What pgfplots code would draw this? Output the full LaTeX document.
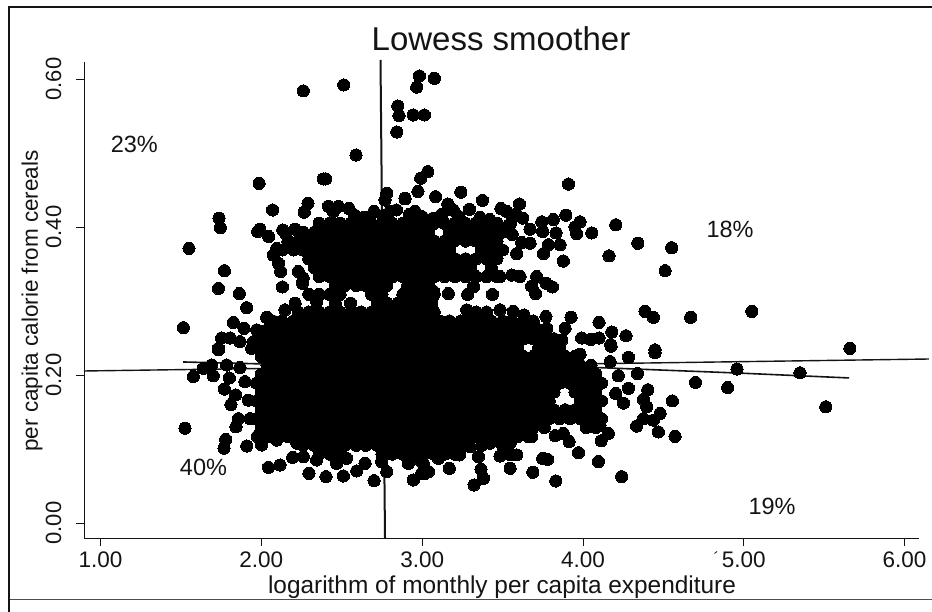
\documentclass[border=0pt]{standalone}
\usepackage{fontspec}
\setmainfont{Liberation Sans}
\usepackage{pgfplots}
\pgfplotsset{compat=1.18}
\definecolor{ink}{HTML}{141414}
\begin{document}
\begin{tikzpicture}[x=1pt,y=1pt]
\useasboundingbox (0,0) rectangle (932,612);
\fill[white] (0,0) rectangle (932,612);
\draw[ink,line width=2pt] (9,0) -- (9,605) -- (932,605);
\draw[ink!75,line width=0.9pt] (10,13) -- (932,13);
\draw[ink,line width=0.8pt] (714.5,58.5) -- (717,60.5);
\begin{axis}[
  at={(84pt,74pt)},anchor=south west,scale only axis,width=835pt,height=476pt,
  xmin=0.897,xmax=6.09,ymin=-0.0203,ymax=0.623,clip=false,
  axis x line=bottom,axis y line=left,axis line style={-,ink,line width=0.9pt},
  tick align=outside,major tick length=8pt,tick style={ink,line width=0.8pt},
  xtick={1,2,3,4,5,6},ytick={0,0.2,0.4,0.6},
  /pgf/number format/assume math mode=true,
  /pgf/number format/fixed,/pgf/number format/fixed zerofill,/pgf/number format/precision=2,
  xticklabel style={font=\fontsize{22.5}{24}\selectfont,text=ink,yshift=-5pt,inner sep=1pt},
  yticklabel style={font=\fontsize{22}{24}\selectfont,text=ink,rotate=90,anchor=south,yshift=11pt},
  title={Lowess smoother},
  title style={at={(axis description cs:0.4994,1.0105)},anchor=base,font=\fontsize{33}{36}\selectfont,text=ink},
  xlabel={logarithm of monthly per capita expenditure},
  xlabel style={at={(axis description cs:0.5006,-0.1165)},anchor=base,font=\fontsize{24.4}{27}\selectfont,text=ink,inner sep=0pt},
  ylabel={per capita calorie from cereals},
  ylabel style={at={(axis description cs:-0.0551,0.498)},anchor=base,font=\fontsize{22.5}{24}\selectfont,text=ink,inner sep=0pt},
]
% scattered points at the edges of the cloud
\addplot[only marks,mark=*,mark size=6.1pt,mark options={fill=black,draw=black,line width=0pt}] coordinates {
(2.261,.584)(2.512,.592)(2.983,.604)(3.076,.601)(2.966,.589)(2.848,.5635)(2.856,.5505)(2.945,.5514)(3.014,.5514)(2.842,.5284)
(2.589,.4973)(3.035,.4748)(2.991,.466)(1.986,.459)(2.385,.465)(2.40,.465)(2.78,.4455)(2.769,.4365)(2.894,.438)(2.974,.448)(3.084,.441)(3.24,.447)
(3.163,.430)(3.194,.423)(2.07,.423)(1.737,.412)(1.745,.399)(1.55,.371)(1.977,.394)(1.99,.397)(2.046,.387)(2.133,.396)(2.153,.391)(2.21,.397)(2.26,.389)
(2.29,.432)(2.267,.420)(1.77,.341)(1.733,.317)(1.863,.310)(1.909,.291)(1.826,.271)(1.515,.264)(2.131,.319)(2.075,.362)(2.095,.371)(2.106,.351)(2.12,.340)
(2.23,.340)(2.26,.331)(2.255,.324)(2.344,.299)(2.21,.297)(2.147,.288)(2.033,.278)(1.892,.263)(1.753,.25)(1.805,.25)(1.867,.245)(1.733,.236)(1.971,.261)(1.95,.245)
(2.417,.428)(2.479,.428)(2.545,.425)(2.448,.421)(2.70,.421)(2.84,.423)(2.956,.421)(2.893,.439)
(2.58,.416)(2.64,.413)(2.76,.416)(2.80,.421)(2.92,.417)(3.0,.414)(3.07,.412)(3.12,.417)(3.23,.414)(3.36,.413)(3.42,.41)(3.55,.405)(3.56,.39)
(3.91,.458)(3.375,.436)(3.605,.431)(3.49,.425)(3.159,.431)(3.294,.424)(3.184,.423)(3.526,.421)(3.584,.418)(3.625,.412)(3.893,.416)(3.816,.41)(3.744,.407)(3.982,.407)(3.951,.4)(3.961,.391)(4.055,.392)(4.204,.403)
(4.341,.378)(4.552,.372)(4.511,.341)(4.162,.361)(3.878,.354)(3.833,.392)(3.75,.394)(3.671,.397)(3.526,.4)(3.858,.376)(3.785,.376)(3.754,.364)(3.671,.378)(3.619,.379)(3.588,.364)(3.712,.333)(3.681,.32)(3.706,.31)(3.77,.324)(3.81,.319)
(3.609,.333)(3.557,.335)(3.484,.333)(3.437,.309)(3.163,.31)(3.283,.309)(3.319,.319)(3.07,.313)
(3.926,.278)(4.10,.271)(4.179,.258)(4.268,.253)(4.386,.286)(4.438,.278)(3.992,.25)(4.048,.248)(4.10,.25)(4.173,.241)(3.889,.263)(3.77,.279)(3.634,.281)(3.567,.286)(3.484,.288)(3.277,.288)(4.448,.234)(3.868,.247)(3.702,.265)(3.775,.263)
(5.05,.286)(4.67,.278)
(4.448,.230)(4.283,.224)(4.175,.239)(3.982,.228)(3.93,.222)(3.868,.22)(4.169,.218)(4.958,.208)(4.339,.202)(4.22,.199)(4.283,.182)(4.204,.175)(4.252,.162)(4.403,.18)(4.376,.167)(4.397,.157)(4.48,.148)(4.556,.165)(4.573,.117)(4.469,.123)(4.438,.139)(4.376,.141)(4.334,.131)(4.158,.121)(4.113,.111)(4.106,.132)(4.096,.083)(4.241,.0626)(3.972,.095)(3.914,.11)(3.878,.121)(3.827,.118)(3.75,.087)(3.78,.086)(3.688,.0685)(3.831,.0568)(3.588,.092)(3.484,.0905)(3.547,.0739)(3.55,.092)(3.366,.0725)(3.381,.0604)(3.323,.0514)(3.35,.0896)(3.232,.0919)(3.169,.0739)(3.039,.0694)(2.997,.067)(3.101,.0874)(3.547,.1077)(3.681,.1167)(3.422,.1077)(3.298,.103)(2.987,.085)
(4.90,.183)(4.70,.190)(5.35,.203)(5.51,.157)(5.66,.236)
(1.733,.234)(1.94,.236)(1.691,.2135)(1.784,.2135)(1.867,.21)(1.639,.209)(1.577,.198)(1.701,.199)(1.801,.196)(1.77,.181)(1.898,.191)(1.84,.173)(1.811,.16)(1.919,.166)(1.857,.141)(1.842,.13)(1.525,.128)(1.93,.141)(1.778,.113)(1.768,.101)(1.909,.104)(1.975,.117)(2.002,.1054)(2.095,.112)(2.22,.108)(2.044,.0752)(2.116,.0784)(2.195,.0887)(2.296,.0671)(2.402,.0626)(2.51,.0635)(2.593,.0703)(2.645,.0806)(2.701,.0572)(2.78,.0694)(2.945,.0581)(3.018,.0671)(2.748,.0829)(2.914,.0806)(3.007,.0806)(2.344,.0851)(2.53,.0874)(2.468,.0806)(2.261,.0896)
};
% upper band
\addplot[only marks,mark=*,mark size=6.1pt,mark options={fill=black,draw=black,line width=0pt}] coordinates {
(2.46,.297)(2.555,.297)(2.72,.297)(2.78,.297)(2.85,.297)(2.91,.297)(2.98,.297)(3.04,.297)(3.06,.297)
(2.295,.309)(2.36,.309)(2.425,.309)(2.49,.309)(2.685,.309)(2.75,.309)(2.88,.309)(2.945,.309)(3.01,.309)(3.075,.309)
(2.46,.321)(2.52,.321)(2.59,.321)(2.65,.321)(2.72,.321)(2.78,.321)(2.91,.321)(2.98,.321)(3.04,.321)
(2.36,.333)(2.425,.333)(2.49,.333)(2.555,.333)(2.62,.333)(2.685,.333)(2.75,.333)(2.815,.333)(2.88,.333)(2.945,.333)(3.01,.333)(3.075,.333)(3.14,.333)(3.205,.333)(3.27,.333)(3.335,.333)(3.40,.333)(3.465,.333)
(2.33,.345)(2.39,.345)(2.46,.345)(2.52,.345)(2.59,.345)(2.65,.345)(2.72,.345)(2.78,.345)(2.85,.345)(2.91,.345)(2.98,.345)(3.04,.345)(3.11,.345)(3.17,.345)(3.24,.345)(3.30,.345)(3.43,.345)
(2.295,.357)(2.36,.357)(2.425,.357)(2.49,.357)(2.555,.357)(2.62,.357)(2.685,.357)(2.75,.357)(2.815,.357)(2.88,.357)(2.945,.357)(3.01,.357)(3.075,.357)(3.14,.357)(3.205,.357)(3.27,.357)(3.335,.357)(3.40,.357)(3.465,.357)
(2.13,.369)(2.20,.369)(2.26,.369)(2.33,.369)(2.39,.369)(2.46,.369)(2.52,.369)(2.59,.369)(2.65,.369)(2.72,.369)(2.78,.369)(2.85,.369)(2.91,.369)(2.98,.369)(3.04,.369)(3.11,.369)(3.17,.369)(3.37,.369)(3.43,.369)(3.50,.369)
(2.165,.381)(2.23,.381)(2.295,.381)(2.36,.381)(2.425,.381)(2.49,.381)(2.555,.381)(2.62,.381)(2.685,.381)(2.75,.381)(2.815,.381)(2.88,.381)(2.945,.381)(3.01,.381)(3.075,.381)(3.14,.381)(3.20,.381)(3.27,.381)(3.335,.381)(3.40,.381)(3.465,.381)
(2.26,.393)(2.33,.393)(2.39,.393)(2.46,.393)(2.52,.393)(2.59,.393)(2.65,.393)(2.72,.393)(2.78,.393)(2.85,.393)(2.91,.393)(2.98,.393)(3.04,.393)(3.17,.393)(3.24,.393)(3.30,.393)(3.37,.393)(3.43,.393)(3.50,.393)
(2.36,.405)(2.425,.405)(2.49,.405)(2.555,.405)(2.62,.405)(2.685,.405)(2.75,.405)(2.815,.405)(2.88,.405)(2.945,.405)(3.01,.405)(3.075,.405)(3.14,.405)(3.205,.405)(3.27,.405)(3.335,.405)(3.40,.405)(3.465,.405)
};
% dense main cloud
\addplot[only marks,mark=*,mark size=6.1pt,mark options={fill=black,draw=black,line width=0pt}] coordinates {
(2.23,.285)(2.295,.285)(2.36,.285)(2.425,.285)(2.49,.285)(2.555,.285)(2.62,.285)(2.685,.285)(2.75,.285)(2.815,.285)(2.88,.285)(2.945,.285)(3.01,.285)(3.075,.285)(3.335,.285)(3.40,.285)
(2.07,.273)(2.13,.273)(2.20,.273)(2.26,.273)(2.33,.273)(2.39,.273)(2.46,.273)(2.52,.273)(2.59,.273)(2.65,.273)(2.72,.273)(2.78,.273)(2.85,.273)(2.91,.273)(2.98,.273)(3.04,.273)(3.11,.273)(3.17,.273)(3.24,.273)(3.30,.273)(3.37,.273)(3.43,.273)(3.50,.273)(3.56,.273)(3.63,.273)(3.69,.273)
(2.035,.261)(2.10,.261)(2.165,.261)(2.23,.261)(2.295,.261)(2.36,.261)(2.425,.261)(2.49,.261)(2.555,.261)(2.62,.261)(2.685,.261)(2.75,.261)(2.815,.261)(2.88,.261)(2.945,.261)(3.01,.261)(3.075,.261)(3.14,.261)(3.205,.261)(3.27,.261)(3.335,.261)(3.40,.261)(3.465,.261)(3.53,.261)(3.595,.261)(3.66,.261)(3.725,.261)
(2.00,.249)(2.07,.249)(2.13,.249)(2.20,.249)(2.26,.249)(2.33,.249)(2.39,.249)(2.46,.249)(2.52,.249)(2.59,.249)(2.65,.249)(2.72,.249)(2.78,.249)(2.85,.249)(2.91,.249)(2.98,.249)(3.04,.249)(3.11,.249)(3.17,.249)(3.24,.249)(3.30,.249)(3.37,.249)(3.43,.249)(3.50,.249)(3.56,.249)(3.63,.249)(3.69,.249)(3.76,.249)(3.82,.249)
(1.97,.237)(2.035,.237)(2.10,.237)(2.165,.237)(2.23,.237)(2.295,.237)(2.36,.237)(2.425,.237)(2.49,.237)(2.555,.237)(2.62,.237)(2.685,.237)(2.75,.237)(2.815,.237)(2.88,.237)(2.945,.237)(3.01,.237)(3.075,.237)(3.14,.237)(3.205,.237)(3.27,.237)(3.335,.237)(3.40,.237)(3.465,.237)(3.53,.237)(3.595,.237)(3.725,.237)(3.79,.237)(3.855,.237)
(2.00,.225)(2.07,.225)(2.13,.225)(2.20,.225)(2.26,.225)(2.33,.225)(2.39,.225)(2.46,.225)(2.52,.225)(2.59,.225)(2.65,.225)(2.72,.225)(2.78,.225)(2.85,.225)(2.91,.225)(2.98,.225)(3.04,.225)(3.11,.225)(3.17,.225)(3.24,.225)(3.30,.225)(3.37,.225)(3.43,.225)(3.50,.225)(3.56,.225)(3.63,.225)(3.69,.225)(3.76,.225)(3.82,.225)(3.89,.225)(3.95,.225)
(2.035,.213)(2.10,.213)(2.165,.213)(2.23,.213)(2.295,.213)(2.36,.213)(2.425,.213)(2.49,.213)(2.555,.213)(2.62,.213)(2.685,.213)(2.75,.213)(2.815,.213)(2.88,.213)(2.945,.213)(3.01,.213)(3.075,.213)(3.14,.213)(3.205,.213)(3.27,.213)(3.335,.213)(3.40,.213)(3.465,.213)(3.53,.213)(3.595,.213)(3.66,.213)(3.725,.213)(3.79,.213)(3.855,.213)(3.92,.213)(3.985,.213)(4.05,.213)
(2.00,.201)(2.07,.201)(2.13,.201)(2.20,.201)(2.26,.201)(2.33,.201)(2.39,.201)(2.46,.201)(2.52,.201)(2.59,.201)(2.65,.201)(2.72,.201)(2.78,.201)(2.85,.201)(2.91,.201)(2.98,.201)(3.04,.201)(3.11,.201)(3.17,.201)(3.24,.201)(3.30,.201)(3.37,.201)(3.43,.201)(3.50,.201)(3.56,.201)(3.63,.201)(3.69,.201)(3.76,.201)(3.82,.201)(3.89,.201)(3.95,.201)(4.02,.201)(4.08,.201)
(1.97,.189)(2.035,.189)(2.10,.189)(2.165,.189)(2.23,.189)(2.295,.189)(2.36,.189)(2.425,.189)(2.49,.189)(2.555,.189)(2.62,.189)(2.685,.189)(2.75,.189)(2.815,.189)(2.88,.189)(2.945,.189)(3.01,.189)(3.075,.189)(3.14,.189)(3.205,.189)(3.27,.189)(3.335,.189)(3.40,.189)(3.465,.189)(3.53,.189)(3.595,.189)(3.66,.189)(3.725,.189)(3.79,.189)(3.855,.189)(3.92,.189)(3.985,.189)(4.05,.189)(4.115,.189)
(2.00,.177)(2.07,.177)(2.13,.177)(2.20,.177)(2.26,.177)(2.33,.177)(2.39,.177)(2.46,.177)(2.52,.177)(2.59,.177)(2.65,.177)(2.72,.177)(2.78,.177)(2.85,.177)(2.91,.177)(2.98,.177)(3.04,.177)(3.11,.177)(3.17,.177)(3.24,.177)(3.30,.177)(3.37,.177)(3.43,.177)(3.50,.177)(3.56,.177)(3.63,.177)(3.69,.177)(3.76,.177)(3.82,.177)(3.95,.177)(4.02,.177)(4.08,.177)
(1.97,.165)(2.035,.165)(2.10,.165)(2.165,.165)(2.23,.165)(2.295,.165)(2.36,.165)(2.425,.165)(2.49,.165)(2.555,.165)(2.62,.165)(2.685,.165)(2.75,.165)(2.815,.165)(2.88,.165)(2.945,.165)(3.01,.165)(3.075,.165)(3.14,.165)(3.205,.165)(3.27,.165)(3.335,.165)(3.40,.165)(3.465,.165)(3.53,.165)(3.595,.165)(3.66,.165)(3.725,.165)(3.79,.165)(3.985,.165)(4.05,.165)(4.115,.165)
(2.00,.153)(2.07,.153)(2.13,.153)(2.20,.153)(2.26,.153)(2.33,.153)(2.39,.153)(2.46,.153)(2.52,.153)(2.59,.153)(2.65,.153)(2.72,.153)(2.78,.153)(2.85,.153)(2.91,.153)(2.98,.153)(3.04,.153)(3.11,.153)(3.17,.153)(3.24,.153)(3.30,.153)(3.37,.153)(3.43,.153)(3.50,.153)(3.56,.153)(3.63,.153)(3.69,.153)(3.76,.153)(3.82,.153)(3.89,.153)(3.95,.153)(4.02,.153)(4.08,.153)
(1.97,.141)(2.035,.141)(2.10,.141)(2.165,.141)(2.23,.141)(2.295,.141)(2.36,.141)(2.425,.141)(2.49,.141)(2.555,.141)(2.62,.141)(2.685,.141)(2.75,.141)(2.815,.141)(2.88,.141)(2.945,.141)(3.01,.141)(3.075,.141)(3.14,.141)(3.205,.141)(3.27,.141)(3.335,.141)(3.40,.141)(3.465,.141)(3.53,.141)(3.595,.141)(3.66,.141)(3.725,.141)(3.79,.141)(3.855,.141)(3.92,.141)(3.985,.141)(4.05,.141)(4.115,.141)
(2.00,.129)(2.07,.129)(2.13,.129)(2.20,.129)(2.26,.129)(2.33,.129)(2.39,.129)(2.46,.129)(2.52,.129)(2.59,.129)(2.65,.129)(2.72,.129)(2.78,.129)(2.85,.129)(2.91,.129)(2.98,.129)(3.04,.129)(3.11,.129)(3.17,.129)(3.24,.129)(3.30,.129)(3.37,.129)(3.43,.129)(3.50,.129)(3.56,.129)(3.63,.129)(3.69,.129)(3.76,.129)(4.02,.129)(4.08,.129)
(2.035,.117)(2.10,.117)(2.165,.117)(2.23,.117)(2.295,.117)(2.36,.117)(2.425,.117)(2.49,.117)(2.555,.117)(2.62,.117)(2.685,.117)(2.75,.117)(2.815,.117)(2.88,.117)(2.945,.117)(3.01,.117)(3.075,.117)(3.14,.117)(3.205,.117)(3.27,.117)(3.335,.117)(3.40,.117)(3.465,.117)(3.53,.117)(3.595,.117)(3.66,.117)
(2.26,.105)(2.33,.105)(2.39,.105)(2.46,.105)(2.52,.105)(2.59,.105)(2.65,.105)(2.72,.105)(2.78,.105)(2.85,.105)(2.91,.105)(2.98,.105)(3.04,.105)(3.11,.105)(3.17,.105)(3.24,.105)(3.37,.105)(3.50,.105)
(2.36,.093)(2.425,.093)(2.49,.093)(2.75,.093)(2.815,.093)(2.88,.093)(2.945,.093)(3.01,.093)(3.075,.093)(3.14,.093)(3.205,.093)
};
% crosshair lines and the smoother
\addplot[ink,line width=2pt,forget plot] coordinates {(2.741,.626)(2.769,-.0203)};
\addplot[ink,line width=1.4pt,forget plot] coordinates {(.897,.2054)(6.152,.2216)};
\addplot[ink,line width=1.6pt,forget plot] coordinates {(1.513,.2176)(2.0,.215)(3.0,.2125)(4.0,.2108)(4.958,.2027)(5.655,.196)};
\node[font=\fontsize{23.5}{25}\selectfont,text=ink] at (axis cs:1.21,.5115) {23\%};
\node[font=\fontsize{23.5}{25}\selectfont,text=ink] at (axis cs:4.915,.3973) {18\%};
\node[font=\fontsize{23.5}{25}\selectfont,text=ink] at (axis cs:1.64,.0757) {40\%};
\node[font=\fontsize{23.5}{25}\selectfont,text=ink] at (axis cs:5.176,.023) {19\%};
\end{axis}
\end{tikzpicture}
\end{document}
